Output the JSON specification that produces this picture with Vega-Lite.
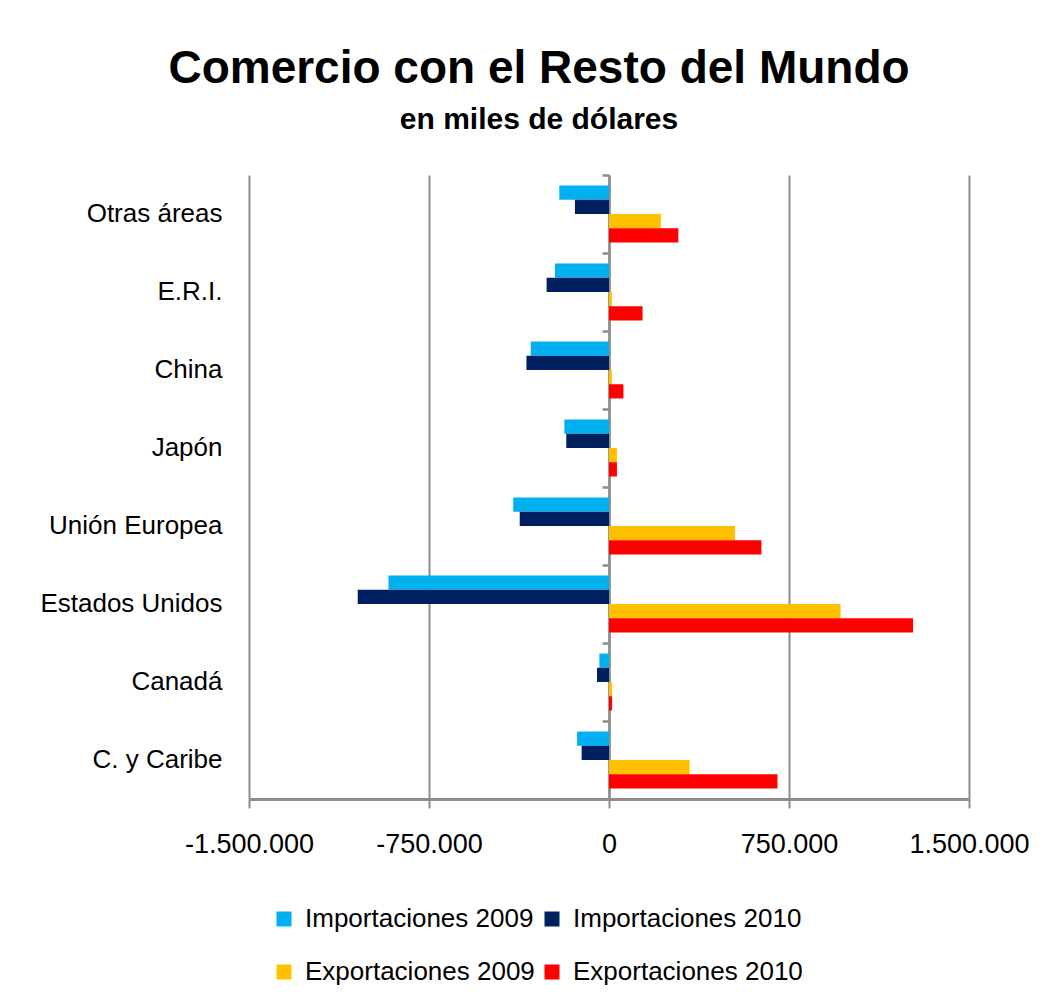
{
  "$schema": "https://vega.github.io/schema/vega-lite/v6.json",
  "width": 720,
  "height": 624,
  "autosize": {"type": "none"},
  "padding": {"left": 249, "top": 175, "right": 86, "bottom": 205},
  "background": "white",
  "title": {
    "text": "Comercio con el Resto del Mundo",
    "subtitle": "en miles de dólares",
    "anchor": "middle",
    "dx": -70,
    "font": "Liberation Sans",
    "fontSize": 46,
    "fontWeight": "bold",
    "color": "#000000",
    "subtitleFont": "Liberation Sans",
    "subtitleFontSize": 30,
    "subtitleFontWeight": "bold",
    "subtitleColor": "#000000",
    "subtitlePadding": 12,
    "offset": 38
  },
  "data": {
    "values": [
      {"region": "Otras áreas", "serie": "Importaciones 2009", "valor": -207000},
      {"region": "Otras áreas", "serie": "Importaciones 2010", "valor": -142000},
      {"region": "Otras áreas", "serie": "Exportaciones 2009", "valor": 216000},
      {"region": "Otras áreas", "serie": "Exportaciones 2010", "valor": 289000},
      {"region": "E.R.I.", "serie": "Importaciones 2009", "valor": -225000},
      {"region": "E.R.I.", "serie": "Importaciones 2010", "valor": -260000},
      {"region": "E.R.I.", "serie": "Exportaciones 2009", "valor": 12000},
      {"region": "E.R.I.", "serie": "Exportaciones 2010", "valor": 140000},
      {"region": "China", "serie": "Importaciones 2009", "valor": -326000},
      {"region": "China", "serie": "Importaciones 2010", "valor": -344000},
      {"region": "China", "serie": "Exportaciones 2009", "valor": 12000},
      {"region": "China", "serie": "Exportaciones 2010", "valor": 60000},
      {"region": "Japón", "serie": "Importaciones 2009", "valor": -186000},
      {"region": "Japón", "serie": "Importaciones 2010", "valor": -178000},
      {"region": "Japón", "serie": "Exportaciones 2009", "valor": 33000},
      {"region": "Japón", "serie": "Exportaciones 2010", "valor": 33000},
      {"region": "Unión Europea", "serie": "Importaciones 2009", "valor": -399000},
      {"region": "Unión Europea", "serie": "Importaciones 2010", "valor": -372000},
      {"region": "Unión Europea", "serie": "Exportaciones 2009", "valor": 525000},
      {"region": "Unión Europea", "serie": "Exportaciones 2010", "valor": 635000},
      {"region": "Estados Unidos", "serie": "Importaciones 2009", "valor": -919000},
      {"region": "Estados Unidos", "serie": "Importaciones 2010", "valor": -1047000},
      {"region": "Estados Unidos", "serie": "Exportaciones 2009", "valor": 965000},
      {"region": "Estados Unidos", "serie": "Exportaciones 2010", "valor": 1267000},
      {"region": "Canadá", "serie": "Importaciones 2009", "valor": -40000},
      {"region": "Canadá", "serie": "Importaciones 2010", "valor": -50000},
      {"region": "Canadá", "serie": "Exportaciones 2009", "valor": 13000},
      {"region": "Canadá", "serie": "Exportaciones 2010", "valor": 13000},
      {"region": "C. y Caribe", "serie": "Importaciones 2009", "valor": -133000},
      {"region": "C. y Caribe", "serie": "Importaciones 2010", "valor": -114000},
      {"region": "C. y Caribe", "serie": "Exportaciones 2009", "valor": 336000},
      {"region": "C. y Caribe", "serie": "Exportaciones 2010", "valor": 702000}
    ]
  },
  "layer": [
    {
      "mark": {"type": "bar"},
      "encoding": {
        "y": {
          "field": "region",
          "type": "nominal",
          "sort": ["Otras áreas", "E.R.I.", "China", "Japón", "Unión Europea", "Estados Unidos", "Canadá", "C. y Caribe"],
          "scale": {"paddingInner": 0.27, "paddingOuter": 0.135},
          "axis": {
            "title": null,
            "domain": false,
            "ticks": false,
            "labelFont": "Liberation Sans",
            "labelFontSize": 26,
            "labelColor": "#000000",
            "labelPadding": 27,
            "labelLimit": 0
          }
        },
        "yOffset": {
          "field": "serie",
          "type": "nominal",
          "sort": ["Importaciones 2009", "Importaciones 2010", "Exportaciones 2009", "Exportaciones 2010"]
        },
        "x": {
          "field": "valor",
          "type": "quantitative",
          "scale": {"domain": [-1500000, 1500000], "nice": false, "zero": false},
          "axis": {
            "title": null,
            "values": [-1500000, -750000, 0, 750000, 1500000],
            "labelExpr": "replace(replace(format(datum.value, ','), /,/g, '.'), '−', '-')",
            "labelFont": "Liberation Sans",
            "labelFontSize": 27,
            "labelColor": "#000000",
            "labelPadding": 23,
            "labelFlush": false,
            "labelOverlap": false,
            "tickSize": 9,
            "tickWidth": 2,
            "tickColor": "#8c8c8c",
            "domainColor": "#8c8c8c",
            "domainWidth": 3,
            "grid": true,
            "gridColor": "#8c8c8c",
            "gridWidth": 2
          }
        },
        "color": {
          "field": "serie",
          "type": "nominal",
          "sort": ["Importaciones 2009", "Importaciones 2010", "Exportaciones 2009", "Exportaciones 2010"],
          "scale": {
            "domain": ["Importaciones 2009", "Importaciones 2010", "Exportaciones 2009", "Exportaciones 2010"],
            "range": ["#00B0F0", "#002060", "#FFC000", "#FF0000"]
          },
          "legend": {
            "title": null,
            "orient": "none",
            "legendX": 22,
            "legendY": 731,
            "direction": "horizontal",
            "columns": 2,
            "symbolType": "square",
            "symbolSize": 225,
            "symbolStrokeWidth": 0,
            "labelFont": "Liberation Sans",
            "labelFontSize": 26,
            "labelColor": "#000000",
            "labelOffset": 8,
            "labelLimit": 0,
            "columnPadding": 4,
            "rowPadding": 27
          }
        }
      }
    },
    {
      "mark": {"type": "tick", "opacity": 0},
      "encoding": {
        "y": {
          "field": "region",
          "type": "nominal",
          "sort": ["Otras áreas", "E.R.I.", "China", "Japón", "Unión Europea", "Estados Unidos", "Canadá", "C. y Caribe"],
          "axis": {
            "title": null,
            "orient": "left",
            "offset": -360,
            "labels": false,
            "domain": true,
            "domainColor": "#8c8c8c",
            "domainWidth": 2.5,
            "ticks": true,
            "tickOffset": -39,
            "tickSize": 7,
            "tickWidth": 2.5,
            "tickColor": "#8c8c8c",
            "grid": false
          }
        },
        "x": {"datum": 0, "type": "quantitative"}
      }
    }
  ],
  "resolve": {"axis": {"y": "independent"}},
  "config": {
    "view": {"stroke": null},
    "axis": {"gridColor": "#8c8c8c"}
  }
}
